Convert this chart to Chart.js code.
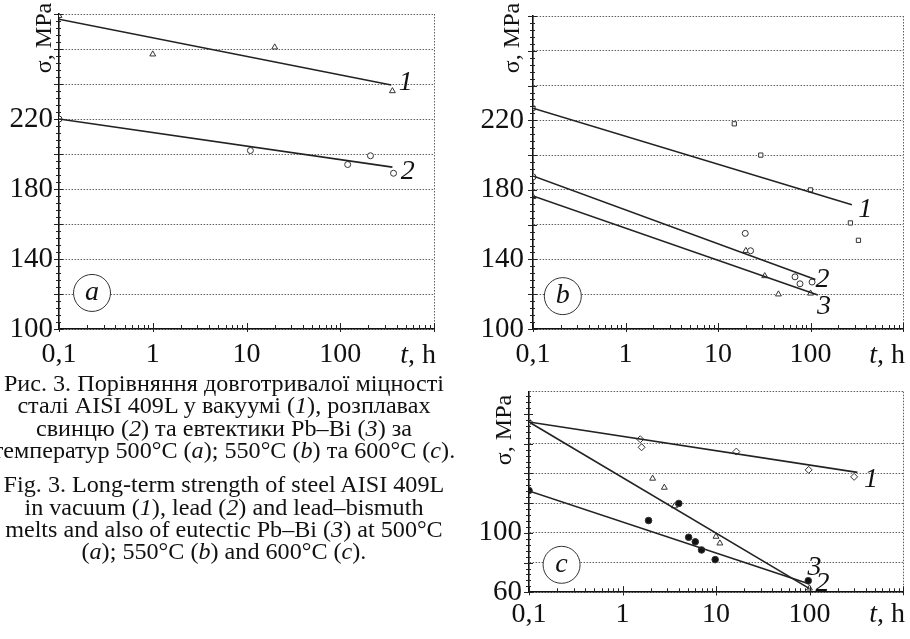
<!DOCTYPE html>
<html>
<head>
<meta charset="utf-8">
<script src="https://cdn.jsdelivr.net/npm/chart.js@4.4.0/dist/chart.umd.min.js"></script>
<style>
  html, body { margin: 0; padding: 0; background: #fff; width: 910px; height: 639px; overflow: hidden; }
  canvas { position: absolute; }
  #capt { position: absolute; left: -26px; top: 373px; width: 500px; text-align: center;
          font-family: "Liberation Serif", "Times New Roman", serif; font-size: 23px; line-height: 22.4px;
          color: #111; white-space: nowrap; transform: scaleX(1.05); transform-origin: 251px 0; }
  #capt p { margin: 0 0 11.5px 0; }
</style>
</head>
<body>
<canvas id="chartA" width="455" height="375" style="left:0;top:0"></canvas>
<canvas id="chartB" width="455" height="375" style="left:455px;top:0"></canvas>
<canvas id="chartC" width="455" height="259" style="left:455px;top:380px"></canvas>
<div id="capt">
  <p>Рис. 3. Порівняння довготривалої міцності<br>сталі AISI 409L у вакуумі (<i>1</i>), розплавах<br>свинцю (<i>2</i>) та евтектики Pb–Bi (<i>3</i>) за<br>температур 500°C (<i>a</i>); 550°C (<i>b</i>) та 600°C (<i>c</i>).</p>
  <p>Fig. 3. Long-term strength of steel AISI 409L<br>in vacuum (<i>1</i>), lead (<i>2</i>) and lead–bismuth<br>melts and also of eutectic Pb–Bi (<i>3</i>) at 500°C<br>(<i>a</i>); 550°C (<i>b</i>) and 600°C (<i>c</i>).</p>
</div>
<script>
// час до руйнування t, год, і напруження σ, МПа
// a) 500 °C
const tA1 = [0.1, 1, 20, 360];
const sA1 = [279, 257, 261, 236];
const tA2 = [0.1, 11, 120, 210, 370];
const sA2 = [220, 202, 194, 199, 189];
const fitA1t = [0.1, 350], fitA1s = [277, 239.4];
const fitA2t = [0.1, 360], fitA2s = [220, 192.5];

// b) 550 °C
const tB1 = [0.1, 15, 29, 100, 270, 330];
const sB1 = [227, 218, 200, 180, 161, 151];
const tB2 = [0.1, 19.7, 22.5, 68, 77, 104];
const sB2 = [187.5, 155, 145, 130, 126, 127];
const tB3 = [0.1, 20, 32, 45, 100];
const sB3 = [176, 145, 130.5, 120, 120.5];
const fitB1t = [0.1, 280], fitB1s = [227, 171.4];
const fitB2t = [0.1, 113], fitB2s = [188, 128.5];
const fitB3t = [0.1, 120], fitB3s = [176.5, 119.5];

// c) 600 °C
const tC1 = [0.1, 1.55, 1.6, 16.5, 98, 300];
const sC1 = [174.6, 163, 157.6, 154.7, 142.4, 137.7];
const tC2 = [2.1, 2.8, 3.6, 10, 11, 100];
const sC2 = [136.6, 130.5, 118, 97.5, 93, 62.7];
const tC3 = [0.1, 1.9, 4, 5.1, 6, 7, 9.8, 97];
const sC3 = [128.5, 108.3, 119.8, 97, 94, 88.5, 82, 67.8];
const fitC1t = [0.1, 325], fitC1s = [174.6, 140.7];
const fitC2t = [0.1, 100], fitC2s = [174.6, 62.5];
const fitC3t = [0.1, 100], fitC3s = [128.2, 65.6];

// підписи осей
const xMajor = [0.1, 1, 10, 100];
const xMajorText = ['0,1', '1', '10', '100'];
const yLabelsAB = [100, 140, 180, 220];
const yLabelsC = [60, 100];

const INK = '#111';
const LINE = '#222';
const GRID = '#5e5e5e';
const DOT = [1.5, 1.5];
const SERIF = '"Liberation Serif", "Times New Roman", serif';

const pts = (ts, ss) => ts.map((t, i) => ({ x: t, y: ss[i] }));
const marks = (ts, ss, style, fill, r) => ({
    data: pts(ts, ss), showLine: false, pointStyle: style, pointRadius: r || 3.4,
    pointBorderWidth: 1, pointBorderColor: '#333', pointBackgroundColor: fill || '#fff'
});
const fit = (ts, ss) => ({
    data: pts(ts, ss), showLine: true, pointRadius: 0, borderColor: LINE, borderWidth: 1.6
});

//малює дрібні поділки, номери кривих, літеру панелі та назви осей
const decor = {
    id: 'decor',
    afterDraw(chart, args, o) {
        const { ctx, chartArea: a, scales: { x, y } } = chart;
        ctx.save();
        ctx.strokeStyle = '#222';
        ctx.lineWidth = 1;
        ctx.beginPath();
        [0.1, 1, 10, 100].forEach(d => {
            for (let m = 1; m <= 10; m++) {
                const px = Math.round(x.getPixelForValue(d * m)) + 0.5;
                const major = (m === 1 || m === 10);
                ctx.moveTo(px, a.bottom + (major ? 3 : 0));
                ctx.lineTo(px, a.bottom - (major ? 6 : 4));
            }
        });
        for (let v = y.min; v <= y.max + 1e-6; v += 4) {
            const py = Math.round(y.getPixelForValue(v)) + 0.5;
            const major = Math.abs((v - y.min) % 20) < 1e-6;
            ctx.moveTo(a.left - (major ? 5 : 3), py);
            ctx.lineTo(a.left + (major ? 4 : 2), py);
        }
        ctx.stroke();

        ctx.fillStyle = INK;
        ctx.textAlign = 'center';
        ctx.textBaseline = 'middle';
        ctx.font = 'italic 28px ' + SERIF;
        o.numbers.forEach(n => ctx.fillText(n[0], x.getPixelForValue(n[1]), y.getPixelForValue(n[2])));

        //літера панелі в колі
        const cx = x.getPixelForValue(o.letter[1]), cy = y.getPixelForValue(o.letter[2]);
        ctx.beginPath();
        ctx.arc(cx, cy, 18.5, 0, Math.PI * 2);
        ctx.fillStyle = '#fff';
        ctx.fill();
        ctx.strokeStyle = '#333';
        ctx.stroke();
        ctx.fillStyle = INK;
        ctx.fillText(o.letter[0], cx, cy);

        //t, h
        const ty = a.bottom + o.xLabelOffset;
        ctx.textAlign = 'right';
        ctx.font = '28px ' + SERIF;
        const hw = ctx.measureText(', h').width;
        ctx.fillText(', h', a.right + 2, ty);
        ctx.font = 'italic 28px ' + SERIF;
        ctx.fillText('t', a.right + 2 - hw, ty);

        //σ, MPa
        ctx.translate(o.yTitle[0], o.yTitle[1]);
        ctx.rotate(-Math.PI / 2);
        ctx.textAlign = 'center';
        ctx.font = o.yTitle[2] + 'px ' + SERIF;
        ctx.fillText('σ, MPa', 0, 0);
        ctx.restore();
    }
};

function makePanel(id, p) {
    return new Chart(document.getElementById(id), {
        type: 'scatter',
        data: { datasets: p.datasets },
        options: {
            responsive: false,
            animation: false,
            events: [],
            layout: { padding: { top: p.top, right: p.right, left: 0, bottom: 0 } },
            plugins: { legend: { display: false }, tooltip: { enabled: false }, decor: p.decor },
            scales: {
                x: {
                    type: 'logarithmic', min: 0.1, max: 1000,
                    afterFit: s => { s.height = p.xHeight; s.paddingLeft = 0; s.paddingRight = 0; },
                    grid: {
                        drawTicks: false, lineWidth: 1,
                        color: c => (c.tick && Math.abs(c.tick.value - 1000) < 1) ? GRID : 'rgba(0,0,0,0)'
                    },
                    border: { color: '#111', width: 1.6, dash: DOT },
                    ticks: {
                        autoSkip: false, maxRotation: 0, padding: p.xPad, color: INK,
                        font: { family: SERIF, size: 28 },
                        callback: v => {
                            const k = xMajor.findIndex(m => Math.abs(v / m - 1) < 1e-6);
                            return k >= 0 ? xMajorText[k] : '';
                        }
                    }
                },
                y: {
                    min: p.ymin, max: p.ymax,
                    afterFit: s => { s.width = p.left; s.paddingTop = 0; s.paddingBottom = 0; },
                    grid: { drawTicks: false, lineWidth: 1, color: GRID },
                    border: { color: '#111', width: 1.6, dash: DOT },
                    ticks: {
                        stepSize: 20, autoSkip: false, padding: p.yPad, color: INK,
                        font: { family: SERIF, size: 29 },
                        callback: v => p.yLabels.includes(v) ? String(v) : ''
                    }
                }
            }
        },
        plugins: [decor]
    });
}

makePanel('chartA', {
    top: 14, right: 21, left: 59, xHeight: 46, xPad: 9, yPad: 6,
    ymin: 100, ymax: 280, yLabels: yLabelsAB,
    datasets: [
        fit(fitA1t, fitA1s), fit(fitA2t, fitA2s),
        marks(tA1, sA1, 'triangle'), marks(tA2, sA2, 'circle', '#fff', 3)
    ],
    decor: {
        numbers: [['1', 500, 241], ['2', 525, 189.7]],
        letter: ['a', 0.225, 120.6],
        xLabelOffset: 27, yTitle: [45, 38, 24]
    }
});

makePanel('chartB', {
    top: 16, right: 7, left: 78, xHeight: 46, xPad: 9, yPad: 9,
    ymin: 100, ymax: 280, yLabels: yLabelsAB,
    datasets: [
        fit(fitB1t, fitB1s), fit(fitB2t, fitB2s), fit(fitB3t, fitB3s),
        marks(tB1, sB1, 'rect', '#fff', 3), marks(tB2, sB2, 'circle', '#fff', 3),
        marks(tB3, sB3, 'triangle')
    ],
    decor: {
        numbers: [['1', 390, 168.6], ['2', 135, 128.6], ['3', 140, 112.6]],
        letter: ['b', 0.21, 118.9],
        xLabelOffset: 27, yTitle: [58, 38, 24]
    }
});

makePanel('chartC', {
    top: 11.7, right: 7, left: 74, xHeight: 46.7, xPad: 6, yPad: 7,
    ymin: 60, ymax: 195, yLabels: yLabelsC,
    datasets: [
        fit(fitC1t, fitC1s), fit(fitC2t, fitC2s), fit(fitC3t, fitC3s),
        marks(tC1, sC1, 'rectRot', '#fff', 3.5), marks(tC2, sC2, 'triangle'),
        marks(tC3, sC3, 'circle', '#111', 3.3)
    ],
    decor: {
        numbers: [['1', 454, 136], ['3', 113, 76.5], ['2', 138, 65.6]],
        letter: ['c', 0.223, 78.5],
        xLabelOffset: 22.5, yTitle: [50, 50, 24]
    }
});
</script>
</body>
</html>
